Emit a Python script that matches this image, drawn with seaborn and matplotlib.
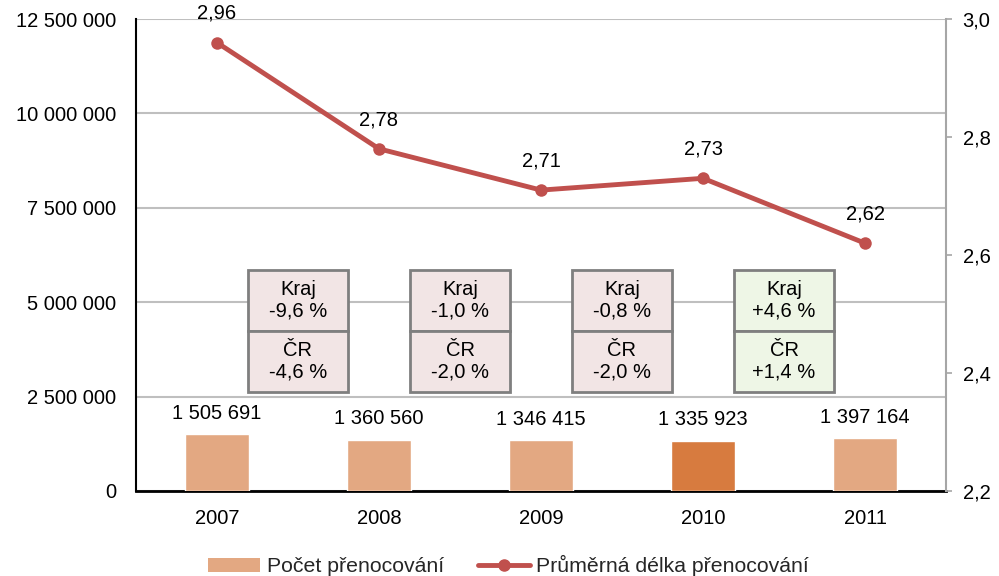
import matplotlib
matplotlib.use("Agg")
import matplotlib.pyplot as plt
import seaborn as sns
import pandas as pd
from matplotlib.patches import Rectangle
from matplotlib.lines import Line2D
from matplotlib.patches import Patch
from matplotlib.ticker import FuncFormatter, MultipleLocator

years = ["2007", "2008", "2009", "2010", "2011"]
nights = [1505691, 1360560, 1346415, 1335923, 1397164]
avg_len = [2.96, 2.78, 2.71, 2.73, 2.62]
kraj_change = ["-9,6 %", "-1,0 %", "-0,8 %", "+4,6 %"]
cr_change = ["-4,6 %", "-2,0 %", "-2,0 %", "+1,4 %"]
bar_label = "Počet přenocování"
line_label = "Průměrná délka přenocování"

FS = 14.5

sns.set_theme(style="white")
plt.rcParams["font.family"] = ["Liberation Sans", "DejaVu Sans"]
plt.rcParams["font.size"] = FS

fig = plt.figure(figsize=(9.99, 5.76), dpi=100)
ax = fig.add_axes([136/999, 1-491/576, (946-136)/999, (491-19)/576])

df = pd.DataFrame({"year": years, "nights": nights, "avg": avg_len})
light = "#E3A882"
dark = "#D77B3F"
pal = {y: (dark if y == "2010" else light) for y in years}
sns.barplot(data=df, x="year", y="nights", hue="year", palette=pal, width=0.4,
            saturation=1, legend=False, ax=ax, zorder=3)

ax.set_ylim(0, 12_500_000)
ax.set_xlim(-0.5, 4.5)
ax.yaxis.set_major_locator(MultipleLocator(2_500_000))
ax.yaxis.set_major_formatter(FuncFormatter(lambda v, p: f"{int(v):,}".replace(",", " ")))
ax.grid(axis="y", color="#BFBFBF", linewidth=1.5, zorder=0)
ax.set_axisbelow(True)
ax.set_xlabel("")
ax.set_ylabel("")
for s in ["top", "right"]:
    ax.spines[s].set_visible(False)
ax.spines["left"].set_color("black")
ax.spines["left"].set_linewidth(1.5)
ax.spines["bottom"].set_color("black")
ax.spines["bottom"].set_linewidth(2)
ax.tick_params(axis="y", length=0, pad=14, labelsize=FS, colors="black")
ax.tick_params(axis="x", length=0, pad=13, labelsize=FS, colors="black")

for i, v in enumerate(nights):
    ax.annotate(f"{v:,}".replace(",", " "), (i, v), xytext=(0, 15), textcoords="offset points",
                ha="center", va="center", fontsize=FS, color="black")

ax2 = ax.twinx()
line_color = "#C0504D"
sns.lineplot(x=list(range(len(years))), y=avg_len, ax=ax2, color=line_color, linewidth=3.5,
             marker="o", markersize=9, markeredgewidth=0, zorder=5)
ax2.set_ylim(2.2, 3.0)
ax2.set_xlim(-0.5, 4.5)
ax2.yaxis.set_major_locator(MultipleLocator(0.2))
ax2.yaxis.set_major_formatter(FuncFormatter(lambda v, p: f"{v:.1f}".replace(".", ",")))
for s in ["top", "left", "bottom"]:
    ax2.spines[s].set_visible(False)
ax2.spines["right"].set_color("#A6A6A6")
ax2.spines["right"].set_linewidth(1.5)
ax2.tick_params(axis="y", length=4, width=1.2, color="#A6A6A6", pad=8, labelsize=FS, labelcolor="black")
ax2.grid(False)
for i, v in enumerate(avg_len):
    ax2.annotate(f"{v:.2f}".replace(".", ","), (i, v), xytext=(0, 21), textcoords="offset points",
                 ha="center", va="center", fontsize=FS, color="black")

# change boxes between years
y_top = (491-270)/472*12_500_000
y_mid = (491-331)/472*12_500_000
y_bot = (491-392)/472*12_500_000
bw = 100/162
for i, (k, c) in enumerate(zip(kraj_change, cr_change)):
    xc = i + 0.5
    fill = "#EEF6E6" if k.startswith("+") else "#F2E5E5"
    for (y0, y1, lab, val) in [(y_mid, y_top, "Kraj", k), (y_bot, y_mid, "ČR", c)]:
        ax.add_patch(Rectangle((xc - bw/2, y0), bw, y1 - y0, facecolor=fill,
                               edgecolor="#7F7F7F", linewidth=2, zorder=6))
        ax.text(xc, y0 + (y1 - y0)*0.5, f"{lab}\n{val}", ha="center", va="center",
                fontsize=FS, color="black", zorder=7, linespacing=1.15)

handles = [Patch(facecolor=light, edgecolor="none"),
           Line2D([0], [0], color=line_color, linewidth=3.5, marker="o", markersize=8)]
fig.legend(handles, [bar_label, line_label], loc="lower center", bbox_to_anchor=(0.509, -0.034),
           ncol=2, frameon=False, fontsize=15.3, handlelength=2.45, handletextpad=0.3, columnspacing=1.6)

fig.savefig("out.png", dpi=100)
